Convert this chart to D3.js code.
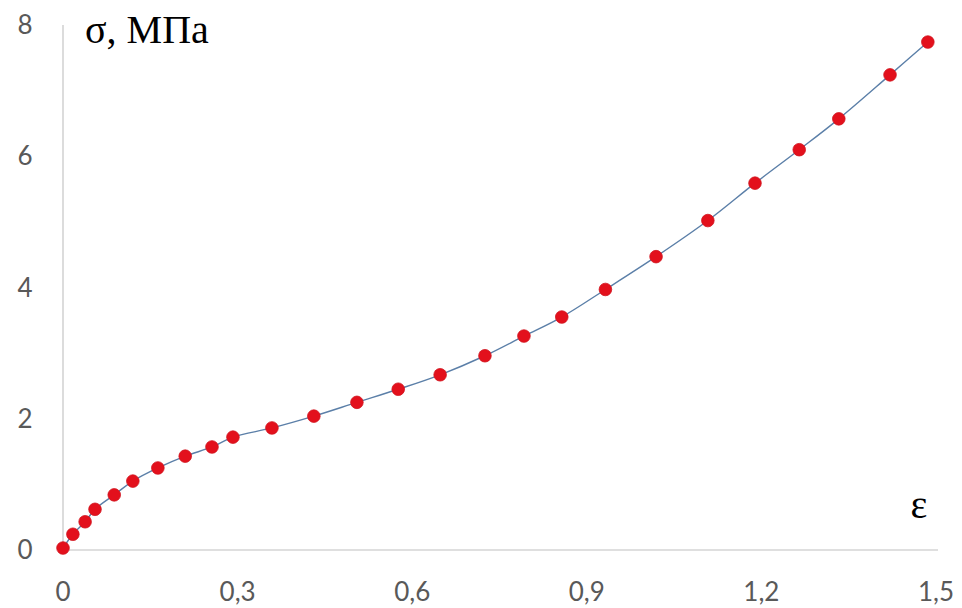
<!DOCTYPE html>
<html>
<head>
<meta charset="utf-8">
<script src="https://cdn.jsdelivr.net/npm/d3@7"></script>
<style>
  html, body { margin: 0; padding: 0; background: #ffffff; }
  svg { display: block; }
</style>
</head>
<body>
<svg id="chart" width="962" height="608"></svg>
<script>
// Strain (ε) values of the measured points
const strain = [0, 0.017, 0.038, 0.055, 0.088, 0.12, 0.163, 0.21, 0.256, 0.292,
  0.359, 0.431, 0.505, 0.576, 0.648, 0.725, 0.792, 0.857, 0.932, 1.019,
  1.108, 1.189, 1.265, 1.333, 1.421, 1.486];
// Stress (σ, MPa) values of the measured points
const stress = [0.03, 0.24, 0.43, 0.62, 0.84, 1.05, 1.25, 1.43, 1.57, 1.72,
  1.86, 2.04, 2.25, 2.45, 2.67, 2.96, 3.26, 3.55, 3.97, 4.47,
  5.02, 5.59, 6.10, 6.57, 7.24, 7.74];
const xTicks = [0, 0.3, 0.6, 0.9, 1.2, 1.5];
const yTicks = [0, 2, 4, 6, 8];
const yTitle = "σ, МПа";
const xTitle = "ε";

const points = strain.map((e, i) => ({ e, s: stress[i] }));

const svg = d3.select("#chart");
const x = d3.scaleLinear().domain([0, 1.5]).range([63, 936]);
const y = d3.scaleLinear().domain([0, 8]).range([550, 25]);
const fmt = v => d3.format(".1~f")(v).replace(".", ",");

// Axis lines
svg.append("line")
  .attr("x1", x(0)).attr("x2", 938)
  .attr("y1", y(0)).attr("y2", y(0))
  .attr("stroke", "#d4d4d4").attr("stroke-width", 1.6);
svg.append("line")
  .attr("x1", x(0)).attr("x2", x(0))
  .attr("y1", y(0)).attr("y2", y(8))
  .attr("stroke", "#d4d4d4").attr("stroke-width", 1.6);

// Tick labels
svg.append("g").selectAll("text").data(xTicks).join("text")
  .attr("x", d => x(d)).attr("y", 601)
  .attr("text-anchor", "middle")
  .attr("font-family", "Lato, 'Open Sans', sans-serif")
  .attr("font-size", 26).attr("fill", "#595959")
  .text(d => d === 0 ? "0" : fmt(d));
svg.append("g").selectAll("text").data(yTicks).join("text")
  .attr("x", 25).attr("y", d => y(d) + 9)
  .attr("text-anchor", "middle")
  .attr("font-family", "Lato, 'Open Sans', sans-serif")
  .attr("font-size", 26).attr("fill", "#595959")
  .text(d => d);

// Axis titles
svg.append("text")
  .attr("x", 85).attr("y", 43)
  .attr("font-family", "'Liberation Serif', 'Times New Roman', serif")
  .attr("font-size", 40).attr("fill", "#000")
  .text(yTitle);
svg.append("text")
  .attr("x", 919).attr("y", 518)
  .attr("text-anchor", "middle")
  .attr("font-family", "'Liberation Serif', 'Times New Roman', serif")
  .attr("font-size", 40).attr("fill", "#000")
  .text(xTitle);

// Smoothed line through the points
const line = d3.line()
  .x(d => x(d.e)).y(d => y(d.s))
  .curve(d3.curveCatmullRom.alpha(0.5));
svg.append("path")
  .datum(points)
  .attr("d", line)
  .attr("fill", "none")
  .attr("stroke", "#5b7fa8")
  .attr("stroke-width", 1.4);

// Markers
svg.append("g").selectAll("circle").data(points).join("circle")
  .attr("cx", d => x(d.e)).attr("cy", d => y(d.s))
  .attr("r", 6.3)
  .attr("fill", "#e3101c")
  .attr("stroke", "#d0141e").attr("stroke-width", 0.8);
</script>
</body>
</html>
